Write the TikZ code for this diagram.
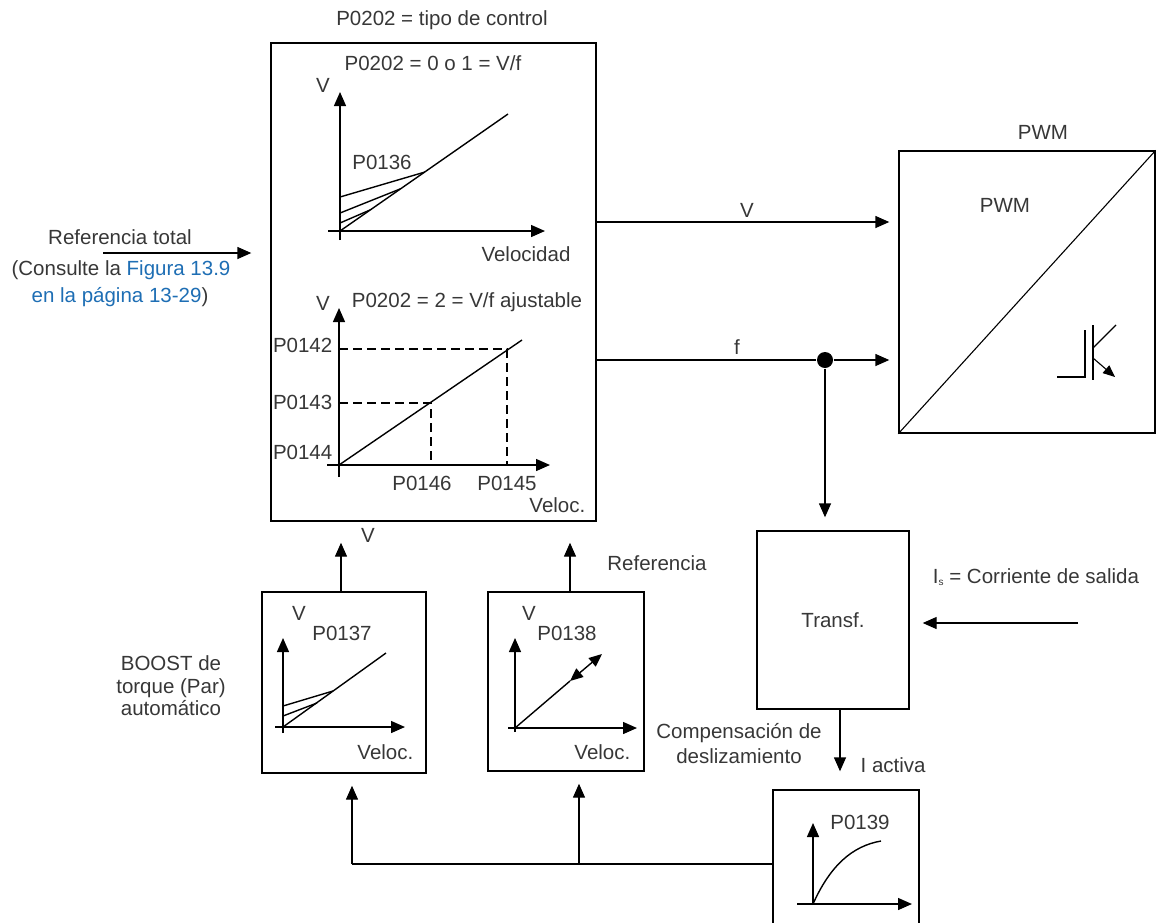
\documentclass[tikz,border=0pt]{standalone}
\usepackage{fontspec}
\setmainfont{Liberation Sans}
\usetikzlibrary{arrows.meta,positioning}
\definecolor{txtgray}{RGB}{55,55,55}
\definecolor{linkblue}{RGB}{30,110,180}
\tikzset{
  box/.style={draw,inner sep=0pt,text=txtgray,font=\fontsize{20.5}{25}\selectfont},
  lbl/.style={inner sep=0pt,text=txtgray,font=\fontsize{20.5}{25}\selectfont},
  arr/.style={-{Triangle[length=14pt,width=12pt]}},
  guide/.style={dash pattern=on 9pt off 5pt}
}
\newcommand{\smallsub}[1]{\raisebox{-2.5pt}{\fontsize{10}{10}\selectfont #1}}
\begin{document}
\begin{tikzpicture}[x=1pt,y=-1pt,line width=1.4pt]
  \useasboundingbox (0,0) rectangle (1156,922);
  \clip (0,0) rectangle (1156,922);

  % blocks
  \node[box,minimum width=325pt,minimum height=478pt] (ctrl) at (433.5,282) {};
  \node[box,minimum width=256pt,minimum height=282pt] (pwm) at (1027,292) {};
  \node[box,minimum width=164pt,minimum height=181pt] (boost) at (344,682.5) {};
  \node[box,minimum width=156pt,minimum height=179pt] (slope) at (566,681.5) {};
  \node[box,minimum width=152pt,minimum height=178pt] (transf) at (833,620) {Transf.};
  \node[box,minimum width=146pt,minimum height=170pt] (slip) at (846,875) {};

  % labels
  \node[lbl] (title) at (442,20) {P0202 = tipo de control};
  \node[lbl] (pwmtitle) at (1043,132) {PWM};
  \node[lbl] (pwmtxt) at (1005,205) {PWM};
  \node[lbl] (reftot) at (120,237) {Referencia total};
  \node[lbl] (consult) at (121,270) {(Consulte la \textcolor{linkblue}{Figura 13.9}};
  \node[lbl] (consultb) at (120,297) {\textcolor{linkblue}{en la página 13-29})};
  \node[lbl] (vlbl) at (747,210) {V};
  \node[lbl] (flbl) at (737,347) {f};
  \node[lbl] (vbot) at (368,535) {V};
  \node[lbl] (reflbl) at (657,563) {Referencia};
  \node[lbl,align=center,font=\fontsize{20.5}{22.5}\selectfont] (boostlbl) at (171,686)
    {BOOST de\\torque (Par)\\automático};
  \node[lbl,align=center,font=\fontsize{20.5}{25}\selectfont] (complbl) at (739,744)
    {Compensación de\\deslizamiento};
  \node[lbl,anchor=west] (iact) at (860,765) {I activa};
  \node[lbl] (islbl) at (1036,577) {I\smallsub{s} = Corriente de salida};

  % V/f graph
  \node[lbl] (vf) at (433,63) {P0202 = 0 o 1 = V/f};
  \node[lbl] (vfv) at (323,85) {V};
  \node[lbl] (p136) at (382,162) {P0136};
  \node[lbl] (vel) at (526,254) {Velocidad};
  \draw[arr] (340,240) -- (340,92);
  \draw[arr] (328,231) -- (545,231);
  \draw (340,231) -- (508,114);
  \draw (340,197) -- (425,172);
  \draw (340,213) -- (400,189);
  \draw (340,223) -- (370,210);

  % V/f ajustable graph
  \node[lbl] (vfadj) at (467,302) {P0202 = 2 = V/f ajustable};
  \node[lbl] (vfadjv) at (323,303) {V};
  \node[lbl,anchor=east] (p142) at (333,345) {P0142};
  \node[lbl,anchor=east] (p143) at (333,402) {P0143};
  \node[lbl,anchor=east] (p144) at (333,452) {P0144};
  \node[lbl] (p146) at (422,483) {P0146};
  \node[lbl] (p145) at (507,483) {P0145};
  \node[lbl,anchor=east] (velb) at (586,505) {Veloc.};
  \draw[arr] (339,477) -- (339,308);
  \draw[arr] (327,465) -- (550,465);
  \draw (339,465) -- (522,340);
  \draw[guide] (339,349) -| (507,465);
  \draw[guide] (339,403) -| (431,465);

  % boost graph
  \node[lbl] (boostv) at (299,613) {V};
  \node[lbl] (p137) at (342,633) {P0137};
  \node[lbl,anchor=east] (velc) at (414,752) {Veloc.};
  \draw[arr] (283,733) -- (283,638);
  \draw[arr] (275,727) -- (405,727);
  \draw (283,727) -- (386,653);
  \draw (283,706) -- (333,691);
  \draw (283,716) -- (317,703);

  % slope graph
  \node[lbl] (slopev) at (529,613) {V};
  \node[lbl] (p138) at (567,633) {P0138};
  \node[lbl,anchor=east] (veld) at (631,752) {Veloc.};
  \draw[arr] (515,732) -- (515,638);
  \draw[arr] (508,728) -- (637,728);
  \draw (515,728) -- (570,681);
  \draw[{Triangle[length=13pt,width=11pt]}-{Triangle[length=13pt,width=11pt]}] (570,681) -- (602,654);

  % slip graph
  \node[lbl] (p139) at (860,822) {P0139};
  \draw[arr] (813,905) -- (813,823);
  \draw[arr] (797,904) -- (912,904);
  \draw (813,904) .. controls (830,866) and (852,846) .. (881,841);

  % PWM symbol
  \draw[line width=1.1pt] (pwm.south west) -- (pwm.north east);
  \draw[line width=1.1pt] (1057,377) -- (1085,377) -- (1085,330);
  \draw[line width=1.1pt] (1093,325) -- (1093,380);
  \draw[line width=1.1pt] (1093,348) -- (1116,325);
  \draw[line width=1.1pt,-{Triangle[length=12pt,width=10pt]}] (1093,358) -- (1115,377);

  % connectors
  \coordinate (refin) at (103,253);
  \coordinate (vout) at (596,222);
  \coordinate (fout) at (596,360);
  \coordinate (isin) at (1078,623);
  \coordinate (fbL) at (352,864);
  \coordinate (fbM) at (579,864);
  \node[circle,fill,inner sep=0pt,minimum size=16pt] (junc) at (825,360) {};
  \draw[arr,shorten >=19pt] (refin) -- (ctrl.west |- refin);
  \draw[arr,shorten >=9pt] (vout) -- (pwm.west |- vout);
  \draw (fout) -- (junc);
  \draw[arr,shorten >=9pt] (junc) -- (pwm.west |- junc);
  \draw[arr,shorten >=13pt] (junc) -- (junc |- transf.north);
  \draw[arr,shorten >=13pt] (isin) -- (transf.east |- isin);
  \draw[arr,shorten >=18pt] ([xshift=7pt]transf.south) -- ([xshift=-6pt]slip.north);
  \draw[arr,shorten >=21pt] ([xshift=-3pt]boost.north) -- ([xshift=-3pt]boost.north |- ctrl.south);
  \draw[arr,shorten >=21pt] ([xshift=4pt]slope.north) -- ([xshift=4pt]slope.north |- ctrl.south);
  \draw (slip.west |- fbL) -- (fbL);
  \draw[arr,shorten >=12pt] (fbL) -- (fbL |- boost.south);
  \draw[arr,shorten >=12pt] (fbM) -- (fbM |- slope.south);
\end{tikzpicture}
\end{document}
